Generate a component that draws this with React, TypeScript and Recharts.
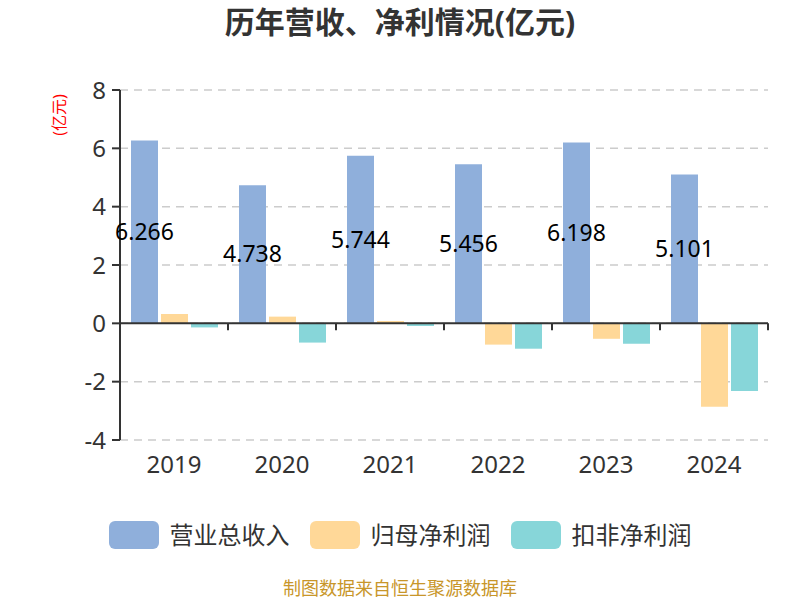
import React from 'react';
import { BarChart, Bar, XAxis, YAxis, CartesianGrid, ReferenceLine, LabelList } from 'recharts';

const years = ['2019', '2020', '2021', '2022', '2023', '2024'];
const revenue = [6.266, 4.738, 5.744, 5.456, 6.198, 5.101];
const netProfit = [0.32, 0.23, 0.08, -0.73, -0.53, -2.86];
const deductedProfit = [-0.14, -0.66, -0.09, -0.87, -0.7, -2.32];
const yTicks = [-4, -2, 0, 2, 4, 6, 8];

const seriesNames = ['营业总收入', '归母净利润', '扣非净利润'];
const seriesColors = ['#8FAFDB', '#FFD898', '#87D6D9'];

const data = years.map((y, i) => ({
  year: y,
  revenue: revenue[i],
  netProfit: netProfit[i],
  deductedProfit: deductedProfit[i],
}));

const FONT = '"Noto Sans", "Noto Sans CJK SC", sans-serif';

const ZeroLine = (props: any) => {
  const { x1, x2, y1 } = props;
  const n = years.length;
  const ticks = [];
  for (let i = 0; i <= n; i++) {
    const x = x1 + ((x2 - x1) * i) / n;
    ticks.push(<line key={i} x1={x} x2={x} y1={y1} y2={y1 + 7} stroke="#333" strokeWidth={2} />);
  }
  return (
    <g>
      <line x1={x1} x2={x2} y1={y1} y2={y1} stroke="#333" strokeWidth={2} />
      {ticks}
    </g>
  );
};

export default function App() {
  return (
    <div style={{ position: 'absolute', left: 0, top: 0, width: 800, height: 600, background: '#fff', fontFamily: FONT }}>
      <div style={{ position: 'absolute', left: 0, top: 2, width: 800, textAlign: 'center', fontSize: 30, fontWeight: 'bold', color: '#333', lineHeight: '40px' }}>
        历年营收、净利情况(亿元)
      </div>
      <div style={{ position: 'absolute', left: 59, top: 115, transform: 'translate(-50%, -50%) rotate(-90deg)', color: '#ff0000', fontSize: 16, whiteSpace: 'nowrap', lineHeight: '18px' }}>
        (亿元)
      </div>
      <BarChart
        width={800}
        height={600}
        data={data}
        margin={{ top: 90, right: 32, bottom: 120, left: 0 }}
        barCategoryGap="10%"
        barGap={3}
        style={{ position: 'absolute', left: 0, top: 0 }}
      >
        <CartesianGrid vertical={false} stroke="#cccccc" strokeDasharray="8 6" strokeWidth={1.5} />
        <XAxis
          dataKey="year"
          axisLine={false}
          tickLine={false}
          tickMargin={10}
          height={40}
          tick={{ fill: '#333', fontSize: 24, fontFamily: FONT }}
        />
        <YAxis
          width={120}
          domain={[-4, 8]}
          ticks={yTicks}
          interval={0}
          axisLine={{ stroke: '#333', strokeWidth: 2 }}
          tickLine={{ stroke: '#333', strokeWidth: 2 }}
          tickSize={8}
          tickMargin={6}
          tick={{ fill: '#333', fontSize: 24, fontFamily: FONT }}
        />
        <Bar dataKey="revenue" fill={seriesColors[0]} barSize={27} isAnimationActive={false}>
          <LabelList dataKey="revenue" position="center" fill="#000" fontSize={23} fontFamily={FONT} formatter={(v: any) => Number(v).toFixed(3)} />
        </Bar>
        <Bar dataKey="netProfit" fill={seriesColors[1]} barSize={27} isAnimationActive={false} />
        <Bar dataKey="deductedProfit" fill={seriesColors[2]} barSize={27} isAnimationActive={false} />
        <ReferenceLine y={0} shape={ZeroLine} />
      </BarChart>
      <div style={{ position: 'absolute', left: 0, top: 521, width: 800, display: 'flex', justifyContent: 'center', alignItems: 'center' }}>
        {seriesNames.map((name, i) => (
          <div key={name} style={{ display: 'flex', alignItems: 'center', marginLeft: i === 0 ? 0 : 20 }}>
            <div style={{ width: 50, height: 28, borderRadius: 6, background: seriesColors[i] }} />
            <span style={{ marginLeft: 11, fontSize: 24, color: '#333', lineHeight: '28px' }}>{name}</span>
          </div>
        ))}
      </div>
      <div style={{ position: 'absolute', left: 0, top: 576, width: 800, textAlign: 'center', fontSize: 18, color: '#C8962A', lineHeight: '24px' }}>
        制图数据来自恒生聚源数据库
      </div>
    </div>
  );
}
